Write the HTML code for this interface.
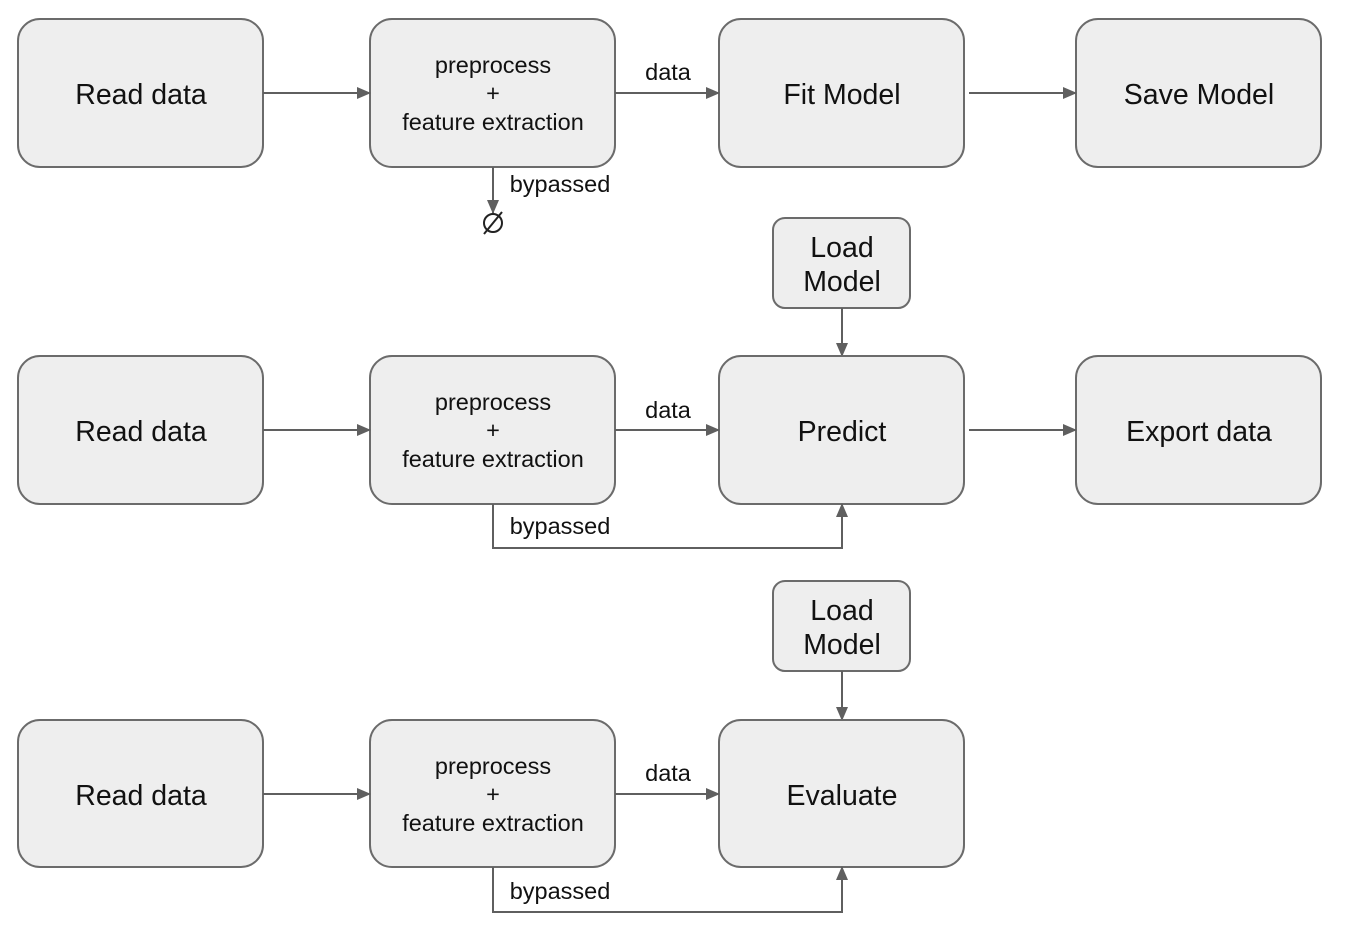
<!DOCTYPE html>
<html><head><style>
html,body{margin:0;padding:0;background:#fff;}
svg{display:block;}
text{font-family:"Liberation Sans",Arial,sans-serif;fill:#111;text-anchor:middle;}
.b{fill:#eeeeee;stroke:#6b6b6b;stroke-width:2;}
.l{stroke:#5f5f5f;stroke-width:2;fill:none;}
.big{font-size:28.5px;}
.sm{font-size:23.5px;}
</style></head><body>
<svg width="1360" height="938" viewBox="0 0 1360 938">
<defs>
<marker id="a" markerWidth="14" markerHeight="12" refX="13" refY="6" orient="auto" markerUnits="userSpaceOnUse" viewBox="0 0 14 12">
<path d="M0,0 L14,6 L0,12 z" fill="#5f5f5f"/>
</marker>
</defs>
<g>
<!-- Row 1 -->
<rect class="b" x="18" y="19" width="245" height="148" rx="22"/>
<rect class="b" x="370" y="19" width="245" height="148" rx="22"/>
<rect class="b" x="719" y="19" width="245" height="148" rx="22"/>
<rect class="b" x="1076" y="19" width="245" height="148" rx="22"/>
<text class="big" x="141" y="104">Read data</text>
<text class="sm" x="493" y="73">preprocess</text>
<text class="sm" x="493" y="101">+</text>
<text class="sm" x="493" y="130">feature extraction</text>
<text class="big" x="842" y="104">Fit Model</text>
<text class="big" x="1199" y="104">Save Model</text>
<line class="l" x1="263" y1="93" x2="370" y2="93" marker-end="url(#a)"/>
<line class="l" x1="615" y1="93" x2="719" y2="93" marker-end="url(#a)"/>
<line class="l" x1="969" y1="93" x2="1076" y2="93" marker-end="url(#a)"/>
<text class="sm" x="668" y="80">data</text>
<line class="l" x1="493" y1="167" x2="493" y2="213" marker-end="url(#a)"/>
<text class="sm" x="560" y="192">bypassed</text>
<circle cx="493" cy="223" r="9" fill="none" stroke="#222" stroke-width="2"/>
<line x1="484" y1="234" x2="502" y2="212" stroke="#222" stroke-width="2"/>

<!-- Row 2 -->
<rect class="b" x="773" y="218" width="137" height="90" rx="12"/>
<text class="big" x="842" y="257">Load</text>
<text class="big" x="842" y="291">Model</text>
<line class="l" x1="842" y1="308" x2="842" y2="356" marker-end="url(#a)"/>
<rect class="b" x="18" y="356" width="245" height="148" rx="22"/>
<rect class="b" x="370" y="356" width="245" height="148" rx="22"/>
<rect class="b" x="719" y="356" width="245" height="148" rx="22"/>
<rect class="b" x="1076" y="356" width="245" height="148" rx="22"/>
<text class="big" x="141" y="441">Read data</text>
<text class="sm" x="493" y="410">preprocess</text>
<text class="sm" x="493" y="438">+</text>
<text class="sm" x="493" y="467">feature extraction</text>
<text class="big" x="842" y="441">Predict</text>
<text class="big" x="1199" y="441">Export data</text>
<line class="l" x1="263" y1="430" x2="370" y2="430" marker-end="url(#a)"/>
<line class="l" x1="615" y1="430" x2="719" y2="430" marker-end="url(#a)"/>
<line class="l" x1="969" y1="430" x2="1076" y2="430" marker-end="url(#a)"/>
<text class="sm" x="668" y="418">data</text>
<polyline class="l" points="493,504 493,548 842,548 842,504" marker-end="url(#a)"/>
<text class="sm" x="560" y="534">bypassed</text>

<!-- Row 3 -->
<rect class="b" x="773" y="581" width="137" height="90" rx="12"/>
<text class="big" x="842" y="620">Load</text>
<text class="big" x="842" y="654">Model</text>
<line class="l" x1="842" y1="671" x2="842" y2="720" marker-end="url(#a)"/>
<rect class="b" x="18" y="720" width="245" height="147" rx="22"/>
<rect class="b" x="370" y="720" width="245" height="147" rx="22"/>
<rect class="b" x="719" y="720" width="245" height="147" rx="22"/>
<text class="big" x="141" y="805">Read data</text>
<text class="sm" x="493" y="774">preprocess</text>
<text class="sm" x="493" y="802">+</text>
<text class="sm" x="493" y="831">feature extraction</text>
<text class="big" x="842" y="805">Evaluate</text>
<line class="l" x1="263" y1="794" x2="370" y2="794" marker-end="url(#a)"/>
<line class="l" x1="615" y1="794" x2="719" y2="794" marker-end="url(#a)"/>
<text class="sm" x="668" y="781">data</text>
<polyline class="l" points="493,867 493,912 842,912 842,867" marker-end="url(#a)"/>
<text class="sm" x="560" y="899">bypassed</text>
</g>
</svg>
</body></html>
